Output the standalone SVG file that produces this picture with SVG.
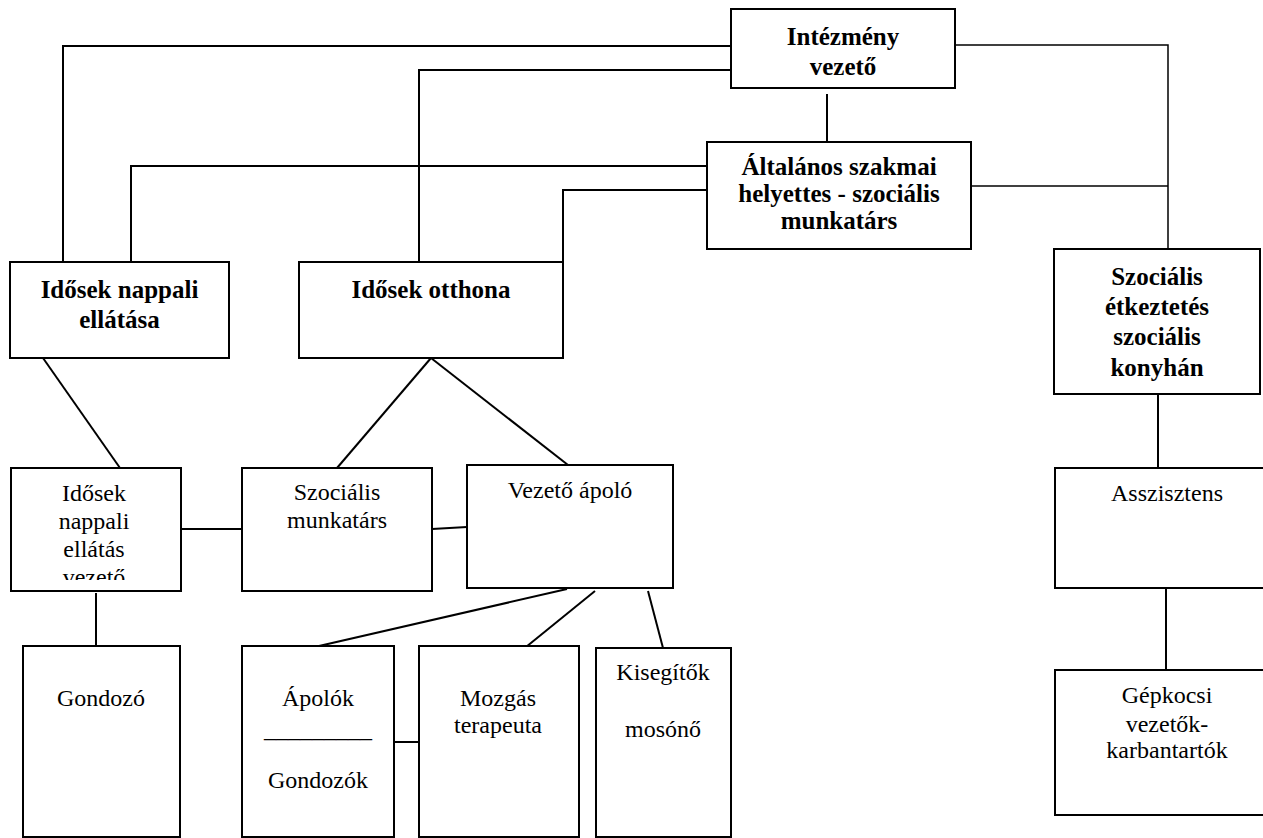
<svg xmlns="http://www.w3.org/2000/svg" width="1263" height="838" viewBox="0 0 1263 838">
<style>
.box{fill:#fff;stroke:#000;stroke-width:2}
.ln{fill:none;stroke:#000;stroke-width:2}
.thin{fill:none;stroke:#000;stroke-width:1.5}
.b{font-family:"Liberation Serif","Times New Roman",serif;font-weight:bold;font-size:25px;fill:#000;text-anchor:middle}
.r{font-family:"Liberation Serif","Times New Roman",serif;font-size:24px;fill:#000;text-anchor:middle}
</style>
<defs>
<clipPath id="clip1"><rect x="11" y="468" width="170" height="112"/></clipPath>
</defs>
<rect width="1263" height="838" fill="#fff"/>
<g id="connectors">
<polyline class="ln" points="731,46 63,46 63,262"/>
<polyline class="ln" points="731,70 419,70 419,262"/>
<polyline class="ln" points="707,166 131,166 131,262"/>
<polyline class="ln" points="707,190 563,190 563,262"/>
<polyline class="thin" points="955,45 1168,45 1168,249"/>
<line class="thin" x1="971" y1="186" x2="1168" y2="186"/>
<line class="ln" x1="827" y1="94" x2="827" y2="142"/>
<line class="ln" x1="1158" y1="394" x2="1158" y2="467"/>
<line class="ln" x1="1166" y1="588" x2="1166" y2="670"/>
<line class="ln" x1="43" y1="358" x2="120" y2="468"/>
<line class="ln" x1="431" y1="358" x2="337" y2="468"/>
<line class="ln" x1="431" y1="358" x2="568" y2="465"/>
<line class="ln" x1="181" y1="529" x2="242" y2="529"/>
<line class="ln" x1="432" y1="529" x2="467" y2="527"/>
<line class="ln" x1="96" y1="593" x2="96" y2="646"/>
<line class="ln" x1="567" y1="589" x2="319" y2="646"/>
<line class="ln" x1="595" y1="591" x2="526" y2="647"/>
<line class="ln" x1="648" y1="591" x2="663" y2="648"/>
<line class="ln" x1="394" y1="742" x2="419" y2="742"/>
</g>
<g id="intezmeny">
<rect class="box" x="731" y="9" width="224" height="79"/>
<text class="b" x="843" y="45">Intézmény</text>
<text class="b" x="843" y="75">vezető</text>
</g>
<g id="altalanos">
<rect class="box" x="707" y="142" width="264" height="107"/>
<text class="b" x="839" y="175">Általános szakmai</text>
<text class="b" x="839" y="202">helyettes - szociális</text>
<text class="b" x="839" y="229">munkatárs</text>
</g>
<g id="nappali">
<rect class="box" x="10" y="262" width="219" height="96"/>
<text class="b" x="119.5" y="298">Idősek nappali</text>
<text class="b" x="119.5" y="328">ellátása</text>
</g>
<g id="otthona">
<rect class="box" x="299" y="262" width="264" height="96"/>
<text class="b" x="431" y="298">Idősek otthona</text>
</g>
<g id="etkeztetes">
<rect class="box" x="1054" y="249" width="206" height="145"/>
<text class="b" x="1157" y="285">Szociális</text>
<text class="b" x="1157" y="315">étkeztetés</text>
<text class="b" x="1157" y="345">szociális</text>
<text class="b" x="1157" y="376">konyhán</text>
</g>
<g id="nappali-vezeto">
<rect class="box" x="11" y="468" width="170" height="123"/>
<g clip-path="url(#clip1)">
<text class="r" x="94" y="501">Idősek</text>
<text class="r" x="94" y="529">nappali</text>
<text class="r" x="94" y="557">ellátás</text>
<text class="r" x="94" y="585">vezető</text>
</g>
</g>
<g id="szoc-munkatars">
<rect class="box" x="242" y="468" width="190" height="123"/>
<text class="r" x="337" y="500">Szociális</text>
<text class="r" x="337" y="528">munkatárs</text>
</g>
<g id="vezeto-apolo">
<rect class="box" x="467" y="465" width="206" height="123"/>
<text class="r" x="570" y="498">Vezető ápoló</text>
</g>
<g id="asszisztens">
<rect class="box" x="1055" y="468" width="220" height="120"/>
<text class="r" x="1167" y="501">Asszisztens</text>
</g>
<g id="gondozo">
<rect class="box" x="23" y="646" width="157" height="191"/>
<text class="r" x="101" y="706">Gondozó</text>
</g>
<g id="apolok">
<rect class="box" x="242" y="646" width="152" height="191"/>
<text class="r" x="318" y="706">Ápolók</text>
<text class="r" x="318" y="737">_________</text>
<text class="r" x="318" y="788">Gondozók</text>
</g>
<g id="mozgas">
<rect class="box" x="419" y="646" width="160" height="191"/>
<text class="r" x="498" y="706">Mozgás</text>
<text class="r" x="498" y="733">terapeuta</text>
</g>
<g id="kisegitok">
<rect class="box" x="596" y="648" width="135" height="189"/>
<text class="r" x="663" y="680">Kisegítők</text>
<text class="r" x="663" y="737">mosónő</text>
</g>
<g id="gepkocsi">
<rect class="box" x="1055" y="670" width="220" height="145"/>
<text class="r" x="1167" y="703">Gépkocsi</text>
<text class="r" x="1167" y="732">vezetők-</text>
<text class="r" x="1167" y="758">karbantartók</text>
</g>
</svg>
